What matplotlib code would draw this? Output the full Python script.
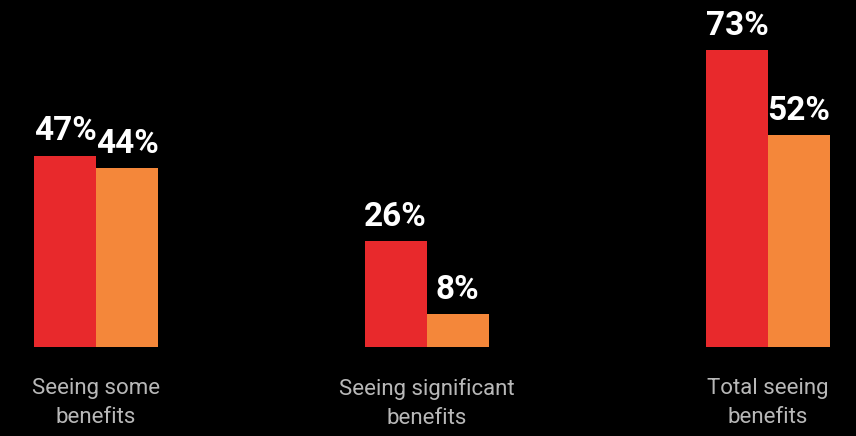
import matplotlib
matplotlib.use("Agg")
import matplotlib.pyplot as plt

categories = ["Seeing some\nbenefits", "Seeing significant\nbenefits", "Total seeing\nbenefits"]
series_a = [47, 26, 73]
series_b = [44, 8, 52]
labels_a = ["47%", "26%", "73%"]
labels_b = ["44%", "8%", "52%"]

red = "#E8292C"
orange = "#F4873A"

W, H = 856, 436
fig = plt.figure(figsize=(W / 100, H / 100), dpi=100, facecolor="black")
base_px = 347
ax = fig.add_axes([0, (H - base_px) / H, 1, base_px / H])
ax.set_facecolor("black")

spacing = 336
bw = 62 / spacing
x = [0, 330.5 / spacing, 2]
ax.bar([xi - bw / 2 for xi in x], series_a, width=bw, color=red)
ax.bar([xi + bw / 2 for xi in x], series_b, width=bw, color=orange)

ax.set_xlim(-96 / spacing, 2 + 88 / spacing)
ax.set_ylim(0, base_px / 4.07)

vfont = dict(ha="center", va="baseline", color="white", fontsize=24,
             fontweight="bold", family=["Roboto", "DejaVu Sans"])
for xi, v, t in zip(x, series_a, labels_a):
    ax.annotate(t, (xi - bw / 2, v), xytext=(0, 11), textcoords="offset points", **vfont)
for xi, v, t in zip(x, series_b, labels_b):
    ax.annotate(t, (xi + bw / 2, v), xytext=(0, 11), textcoords="offset points", **vfont)

for xi, c in zip(x, categories):
    ax.text(xi, -0.088, c, transform=ax.get_xaxis_transform(), ha="center", va="top",
            color="#B8B8B8", fontsize=16, fontweight="normal",
            family=["Roboto", "DejaVu Sans"], linespacing=1.5)

ax.axis("off")
fig.savefig("out.png", dpi=100, facecolor="black")
